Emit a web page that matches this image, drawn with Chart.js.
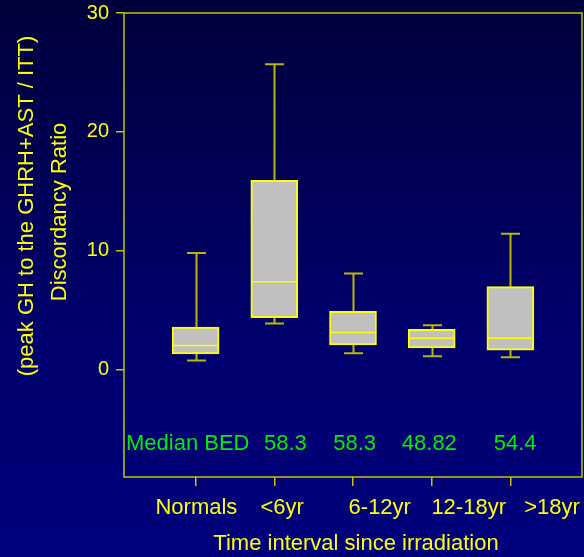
<!DOCTYPE html>
<html>
<head>
<meta charset="utf-8">
<script src="https://cdn.jsdelivr.net/npm/chart.js@4/dist/chart.umd.min.js"></script>
<style>
  html, body { margin: 0; padding: 0; background: #000070; }
  canvas { display: block; }
</style>
</head>
<body>
<canvas id="c" width="584" height="557"></canvas>
<script>
// ---- data ----
const CATEGORIES   = ['Normals', '<6yr', '6-12yr', '12-18yr', '>18yr'];
const CAT_POS      = [1, 2, 3, 4, 5];
const LABEL_POS    = [1.01, 2.10, 3.34, 4.47, 5.53];
const WHISKER_LOW  = [0.8, 3.9, 1.4, 1.15, 1.07];
const Q1           = [1.35, 4.4, 2.1, 1.85, 1.65];
const MEDIAN       = [2.05, 7.42, 3.14, 2.66, 2.66];
const Q3           = [3.6, 15.94, 4.93, 3.42, 7.0];
const WHISKER_HIGH = [9.83, 25.7, 8.1, 3.75, 11.45];
const Y_TICKS      = [0, 10, 20, 30];
const BED_LABEL    = 'Median BED';
const BED_VALUES   = ['58.3', '58.3', '48.82', '54.4'];
const BED_POS      = [2.14, 3.02, 3.97, 5.06];
const BED_Y        = -6.2;
const X_TITLE      = 'Time interval since irradiation';
const Y_TITLE_1    = 'Discordancy Ratio';
const Y_TITLE_2    = '(peak GH to the GHRH+AST / ITT)';

const FONT = '"Liberation Sans", Arial, sans-serif';
const YELLOW = '#ffff00';
const OLIVE = '#c4c400';

const boxPlugin = {
  id: 'boxExtras',
  beforeDraw(chart) {
    const ctx = chart.ctx;
    const g = ctx.createLinearGradient(0, 0, 0, chart.height);
    g.addColorStop(0, '#00003c');
    g.addColorStop(0.6, '#00006e');
    g.addColorStop(1, '#00007c');
    ctx.save();
    ctx.fillStyle = g;
    ctx.fillRect(0, 0, chart.width, chart.height);
    ctx.restore();
  },
  beforeDatasetsDraw(chart) {
    const ctx = chart.ctx, x = chart.scales.x, y = chart.scales.y;
    const capHalf = 9.5;
    ctx.save();
    ctx.strokeStyle = '#b8b800';
    ctx.lineWidth = 2;
    CAT_POS.forEach((p, i) => {
      const px = Math.round(x.getPixelForValue(p)) + 0.5;
      const yHi = y.getPixelForValue(WHISKER_HIGH[i]);
      const yQ3 = y.getPixelForValue(Q3[i]);
      const yQ1 = y.getPixelForValue(Q1[i]);
      const yLo = y.getPixelForValue(WHISKER_LOW[i]);
      ctx.beginPath();
      ctx.moveTo(px, yHi); ctx.lineTo(px, yQ3);
      ctx.moveTo(px, yQ1); ctx.lineTo(px, yLo);
      ctx.moveTo(px - capHalf, yHi); ctx.lineTo(px + capHalf, yHi);
      ctx.moveTo(px - capHalf, yLo); ctx.lineTo(px + capHalf, yLo);
      ctx.stroke();
    });
    ctx.restore();
  },
  afterDatasetsDraw(chart) {
    const ctx = chart.ctx, x = chart.scales.x, y = chart.scales.y;
    const a = chart.chartArea;
    const half = 23;
    ctx.save();
    // medians
    ctx.strokeStyle = YELLOW;
    ctx.lineWidth = 1.5;
    CAT_POS.forEach((p, i) => {
      const px = x.getPixelForValue(p);
      const ym = y.getPixelForValue(MEDIAN[i]);
      ctx.beginPath();
      ctx.moveTo(px - half, ym); ctx.lineTo(px + half, ym);
      ctx.stroke();
    });
    // frame
    ctx.strokeStyle = OLIVE;
    ctx.lineWidth = 1.5;
    ctx.strokeRect(a.left, a.top, a.right - a.left, a.bottom - a.top);

    // Median BED row
    ctx.fillStyle = '#00ee00';
    ctx.font = '22px ' + FONT;
    ctx.textBaseline = 'middle';
    const by = y.getPixelForValue(BED_Y);
    ctx.textAlign = 'left';
    ctx.fillText(BED_LABEL, a.left + 2, by);
    ctx.textAlign = 'center';
    BED_VALUES.forEach((v, i) => ctx.fillText(v, x.getPixelForValue(BED_POS[i]), by));

    // x category labels
    ctx.fillStyle = YELLOW;
    CATEGORIES.forEach((c, i) => ctx.fillText(c, x.getPixelForValue(LABEL_POS[i]), a.bottom + 31));
    // x title
    ctx.fillText(X_TITLE, (a.left + a.right) / 2 + 3, a.bottom + 67);
    // y titles
    ctx.save();
    ctx.translate(27, 206);
    ctx.rotate(-Math.PI / 2);
    ctx.fillText(Y_TITLE_2, 0, 0);
    ctx.restore();
    ctx.save();
    ctx.translate(60, 212);
    ctx.rotate(-Math.PI / 2);
    ctx.fillText(Y_TITLE_1, 0, 0);
    ctx.restore();
    ctx.restore();
  }
};

new Chart(document.getElementById('c'), {
  type: 'bar',
  data: {
    datasets: [{
      data: CAT_POS.map((p, i) => ({ x: p, y: [Q1[i], Q3[i]] })),
      backgroundColor: '#c0c0c0',
      borderColor: YELLOW,
      borderWidth: 2,
      borderSkipped: false,
      barThickness: 47
    }]
  },
  options: {
    responsive: false,
    animation: false,
    events: [],
    layout: { padding: { left: 0, top: 13, right: 2, bottom: 0 } },
    plugins: { legend: { display: false }, tooltip: { enabled: false } },
    scales: {
      x: {
        type: 'linear',
        min: 0.09,
        max: 5.91,
        offset: false,
        afterFit: s => { s.height = 80; s.paddingLeft = 0; s.paddingRight = 0; },
        afterBuildTicks: s => { s.ticks = CAT_POS.map(v => ({ value: v })); },
        grid: { display: true, drawOnChartArea: false, offset: false, drawTicks: true, tickLength: 9, color: OLIVE, lineWidth: 1.5 },
        border: { display: false },
        ticks: { display: false }
      },
      y: {
        min: -9,
        max: 30,
        afterFit: s => { s.width = 124; s.paddingTop = 0; s.paddingBottom = 0; },
        afterBuildTicks: s => { s.ticks = Y_TICKS.map(v => ({ value: v })); },
        grid: { display: true, drawOnChartArea: false, drawTicks: true, tickLength: 8, color: OLIVE, lineWidth: 1.5 },
        border: { display: false },
        ticks: { color: YELLOW, font: { family: FONT, size: 20 }, padding: 7 }
      }
    }
  },
  plugins: [boxPlugin]
});
</script>
</body>
</html>
